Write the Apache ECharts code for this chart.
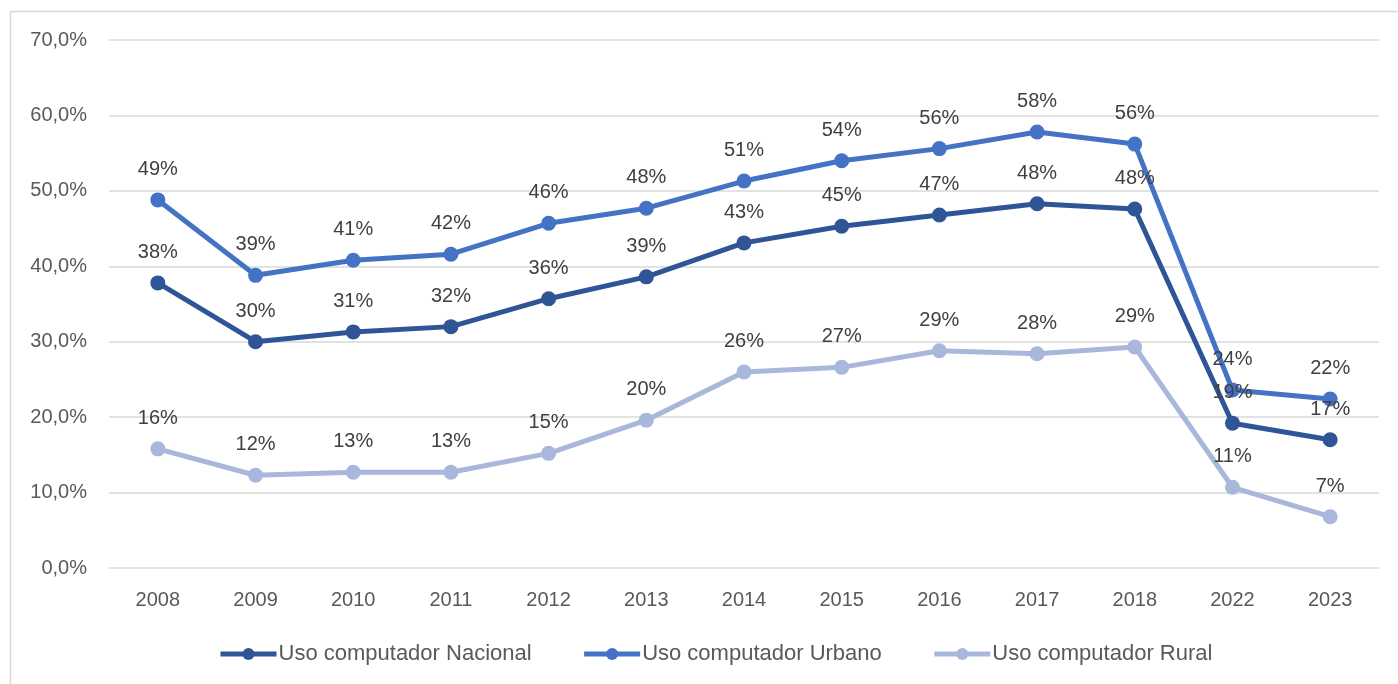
<!DOCTYPE html>
<html><head><meta charset="utf-8">
<script src="https://cdn.jsdelivr.net/npm/echarts@6/dist/echarts.min.js"></script>
<style>html,body{margin:0;padding:0;background:#fff}#c{width:1398px;height:684px}</style>
</head><body><div id="c"></div>
<script>
const years = ['2008','2009','2010','2011','2012','2013','2014','2015','2016','2017','2018','2022','2023'];
const nacional = [37.8,30.0,31.3,32.0,35.7,38.6,43.1,45.3,46.8,48.3,47.6,19.2,17.0];
const urbano = [48.8,38.8,40.8,41.6,45.7,47.7,51.3,54.0,55.6,57.8,56.2,23.6,22.4];
const rural = [15.8,12.3,12.7,12.7,15.2,19.6,26.0,26.6,28.8,28.4,29.3,10.7,6.8];
const seriesNames = ['Uso computador Nacional','Uso computador Urbano','Uso computador Rural'];
const colors = ['#2F5597','#4472C4','#A9B7DD'];
const FONT = 'Liberation Sans';
const chart = echarts.init(document.getElementById('c'));
function mk(name, data, color){
  return {name, type:'line', data, color,
    symbol:'circle', symbolSize:15,
    lineStyle:{width:5, color},
    itemStyle:{color},
    label:{show:true, position:'top', distance:13, color:'#404040', fontSize:20, fontFamily:FONT,
      formatter:p=>Math.round(p.value)+'%'},
    emphasis:{disabled:true}, animation:false};
}
chart.setOption({
  animation:false,
  textStyle:{fontFamily:FONT},
  graphic:[{type:'rect', shape:{x:10.5,y:11.5,width:1400,height:700}, style:{fill:'none', stroke:'#D9D9D9', lineWidth:1.5}, silent:true}],
  grid:{left:109, right:19, top:40, bottom:116},
  xAxis:{type:'category', data:years, boundaryGap:true,
    axisLine:{show:false}, axisTick:{show:false},
    axisLabel:{color:'#595959', fontSize:20, fontFamily:FONT, margin:22}},
  yAxis:{type:'value', min:0, max:70, interval:10,
    axisLine:{show:false}, axisTick:{show:false},
    splitLine:{lineStyle:{color:'#D9D9D9', width:1.5}},
    axisLabel:{color:'#595959', fontSize:20, fontFamily:FONT, margin:22,
      formatter:v=>v.toFixed(1).replace('.',',')+'%'}},
  legend:{data:seriesNames, bottom:14, left:213, itemGap:50, itemWidth:56, itemHeight:15,
    lineStyle:{width:5}, itemStyle:{borderWidth:0},
    textStyle:{color:'#595959', fontSize:22, fontFamily:FONT, padding:[0,0,0,-3]}},
  series:[mk(seriesNames[0],nacional,colors[0]), mk(seriesNames[1],urbano,colors[1]), mk(seriesNames[2],rural,colors[2])]
});
</script></body></html>
